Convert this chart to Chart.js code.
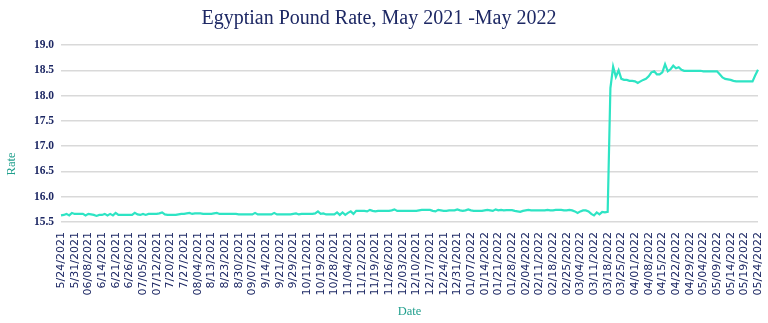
<!DOCTYPE html>
<html>
<head>
<meta charset="utf-8">
<script src="https://cdn.jsdelivr.net/npm/chart.js@4.4.1/dist/chart.umd.min.js"></script>
<style>
  html, body { margin: 0; padding: 0; background: #fff; }
  #wrap { width: 768px; height: 323px; position: relative; }
</style>
</head>
<body>
<div id="wrap"><canvas id="rateChart"></canvas></div>
<script>
// Egyptian pound rate, May 2021 - May 2022

// ─── Data ────────────────────────────────────────────────────────────────────

// one label every 5 trading days
const DATE_LABELS = [
  '5/24/2021', '5/31/2021', '06/08/2021', '6/14/2021', '6/21/2021', '6/26/2021',
  '07/05/2021', '07/12/2021', '7/20/2021', '7/27/2021', '08/04/2021', '8/13/2021',
  '8/23/2021', '8/30/2021', '09/07/2021', '9/14/2021', '9/21/2021', '9/29/2021',
  '10/11/2021', '10/19/2021', '10/28/2021', '11/04/2021', '11/12/2021', '11/19/2021',
  '11/26/2021', '12/03/2021', '12/10/2021', '12/17/2021', '12/24/2021', '12/31/2021',
  '01/07/2022', '01/14/2022', '01/21/2022', '01/28/2022', '02/04/2022', '02/11/2022',
  '02/18/2022', '02/25/2022', '03/04/2022', '03/11/2022', '03/18/2022', '03/25/2022',
  '04/01/2022', '04/08/2022', '04/15/2022', '04/22/2022', '04/29/2022', '05/04/2022',
  '05/09/2022', '05/14/2022', '05/19/2022', '05/24/2022'
];
const POINTS_PER_LABEL = 5;

// daily rate (5 values per label step)
const RATE = [
  15.63, 15.64, 15.66, 15.63, 15.68,
  15.66, 15.66, 15.66, 15.66, 15.63,
  15.66, 15.65, 15.64, 15.62, 15.64,
  15.64, 15.66, 15.63, 15.66, 15.63,
  15.68, 15.64, 15.64, 15.64, 15.64,
  15.64, 15.64, 15.68, 15.65, 15.64,
  15.66, 15.64, 15.66, 15.66, 15.66,
  15.66, 15.67, 15.69, 15.65, 15.64,
  15.64, 15.64, 15.64, 15.65, 15.66,
  15.66, 15.67, 15.68, 15.66, 15.67,
  15.67, 15.67, 15.66, 15.66, 15.66,
  15.66, 15.67, 15.68, 15.66, 15.66,
  15.66, 15.66, 15.66, 15.66, 15.66,
  15.65, 15.65, 15.65, 15.65, 15.65,
  15.65, 15.68, 15.65, 15.65, 15.65,
  15.65, 15.65, 15.65, 15.68, 15.65,
  15.65, 15.65, 15.65, 15.65, 15.65,
  15.66, 15.67, 15.65, 15.66, 15.66,
  15.66, 15.66, 15.66, 15.67, 15.71,
  15.66, 15.67, 15.65, 15.65, 15.65,
  15.65, 15.69, 15.64, 15.69, 15.64,
  15.68, 15.71, 15.66, 15.72, 15.72,
  15.72, 15.72, 15.71, 15.74, 15.72,
  15.71, 15.72, 15.72, 15.72, 15.72,
  15.72, 15.73, 15.75, 15.72, 15.72,
  15.72, 15.72, 15.72, 15.72, 15.72,
  15.72, 15.73, 15.74, 15.74, 15.74,
  15.74, 15.72, 15.71, 15.74, 15.73,
  15.72, 15.72, 15.73, 15.73, 15.73,
  15.75, 15.73, 15.72, 15.73, 15.75,
  15.73, 15.72, 15.72, 15.72, 15.72,
  15.73, 15.74, 15.73, 15.72, 15.75,
  15.73, 15.74, 15.73, 15.735, 15.735,
  15.735, 15.72, 15.71, 15.70, 15.72,
  15.73, 15.74, 15.73, 15.73, 15.73,
  15.73, 15.73, 15.73, 15.74, 15.73,
  15.73, 15.74, 15.74, 15.74, 15.73,
  15.73, 15.74, 15.73, 15.71, 15.68,
  15.71, 15.73, 15.73, 15.71, 15.66,
  15.63, 15.69, 15.65, 15.70, 15.69,
  15.70, 18.15, 18.57, 18.37, 18.50,
  18.33, 18.31, 18.31, 18.29, 18.29,
  18.28, 18.25, 18.28, 18.31, 18.33,
  18.38, 18.46, 18.48, 18.42, 18.42,
  18.46, 18.62, 18.48, 18.52, 18.59,
  18.54, 18.56, 18.51, 18.49, 18.49,
  18.49, 18.49, 18.49, 18.49, 18.49,
  18.48, 18.48, 18.48, 18.48, 18.48,
  18.48, 18.42, 18.36, 18.33, 18.32,
  18.31, 18.29, 18.28, 18.28, 18.28,
  18.28, 18.28, 18.28, 18.28, 18.40,
  18.51
];

const Y_TICKS = [15.5, 16.0, 16.5, 17.0, 17.5, 18.0, 18.5, 19.0];

// ─── Styles ──────────────────────────────────────────────────────────────────

const NAVY = '#1d2864';
const TEAL = '#22a08e';
const LINE = '#2ee4c4';
const GRID = '#d9d9d9';

// ─── Helpers ─────────────────────────────────────────────────────────────────

// category labels: a date on every 5th point, blank elsewhere
function buildLabels() {
  return RATE.map((_, i) => (i % POINTS_PER_LABEL === 0 ? DATE_LABELS[i / POINTS_PER_LABEL] : ''));
}

// y title is drawn by hand so it can sit lower than the axis center
const yTitlePlugin = {
  id: 'yTitle',
  afterDraw(chart) {
    const { ctx } = chart;
    ctx.save();
    ctx.translate(12, 164);
    ctx.rotate(-Math.PI / 2);
    ctx.font = '12.5px "Liberation Serif"';
    ctx.fillStyle = TEAL;
    ctx.textAlign = 'center';
    ctx.textBaseline = 'middle';
    ctx.fillText('Rate', 0, 0);
    ctx.restore();
  }
};

// ─── Chart ───────────────────────────────────────────────────────────────────

function buildConfig() {
  return {
    type: 'line',
    data: {
      labels: buildLabels(),
      datasets: [{
        label: 'Rate',
        data: RATE,
        borderColor: LINE,
        borderWidth: 2.2,
        tension: 0,
        pointRadius: 0,
        fill: false,
      }]
    },
    options: {
      responsive: true,
      maintainAspectRatio: false,
      animation: false,
      layout: { padding: { top: 0, bottom: 0, left: 0, right: 10 } },
      plugins: {
        legend: { display: false },
        tooltip: { enabled: false },
        title: {
          display: true,
          text: 'Egyptian Pound Rate, May 2021 -May 2022',
          color: NAVY,
          font: { family: '"Liberation Serif"', size: 20, weight: 'normal' },
          padding: { top: 7, bottom: 14 },
        }
      },
      scales: {
        y: {
          min: 15.5,
          max: 19.0,
          afterBuildTicks: axis => { axis.ticks = Y_TICKS.map(v => ({ value: v })); },
          afterFit: axis => { axis.width = 61; },
          ticks: {
            callback: v => Number(v).toFixed(1),
            color: NAVY,
            font: { family: '"Liberation Serif"', size: 11.5, weight: 'bold' },
            padding: 7,
          },
          border: { display: false },
          grid: { color: GRID, lineWidth: 1.5, drawTicks: false },
        },
        x: {
          afterFit: axis => {
            axis.height = 101;
            axis.paddingLeft = 0;
            axis.paddingRight = 0;
          },
          ticks: {
            autoSkip: false,
            maxRotation: 90,
            minRotation: 90,
            color: NAVY,
            font: { family: '"DejaVu Sans"', size: 11 },
            padding: 10,
          },
          title: {
            display: true,
            text: 'Date',
            color: TEAL,
            font: { family: '"Liberation Serif"', size: 12.5 },
            padding: { top: 0, bottom: 4 },
          },
          border: { display: false },
          grid: { display: false, drawTicks: false },
        }
      }
    },
    plugins: [yTitlePlugin]
  };
}

const ctx = document.getElementById('rateChart').getContext('2d');
new Chart(ctx, buildConfig());
</script>
</body>
</html>
